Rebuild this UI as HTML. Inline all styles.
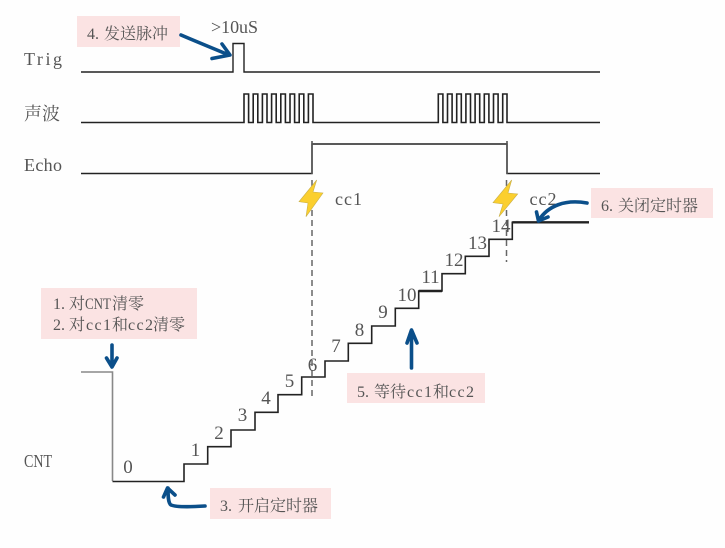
<!DOCTYPE html>
<html><head><meta charset="utf-8"><style>
html,body{margin:0;padding:0;background:#fff}
svg{display:block}
.m{font-family:"Liberation Serif","Noto Serif CJK SC",serif;font-size:18px;fill:#555}
.t{font-family:"Liberation Serif",serif;font-size:16px;fill:#555}
.s{font-family:"Liberation Serif",serif;font-size:19px;fill:#555;text-anchor:middle}
.c{font-family:"Noto Serif CJK SC","Liberation Serif",serif;font-size:16px;fill:#555}
.b{fill:#fbe3e3}
.l{fill:none;stroke:#222;stroke-width:1.4}
.a{fill:none;stroke:#0b4f8a;stroke-width:3.6;stroke-linecap:round;stroke-linejoin:round}
</style></head><body>
<svg width="725" height="548" viewBox="0 0 725 548" xmlns="http://www.w3.org/2000/svg">
<rect width="725" height="548" fill="#fefefe"/>
<rect class="b" x="77" y="16" width="103" height="31"/>
<rect class="b" x="41" y="288" width="156" height="51"/>
<rect class="b" x="210" y="488" width="121" height="31"/>
<rect class="b" x="347" y="373" width="138" height="30"/>
<rect class="b" x="591" y="188" width="122" height="30"/>

<path class="l" d="M81 72H233V43.500H244V72H600"/>
<path class="l" style="stroke-width:1.6" d="M81 122.500H244V94H248.600V122.500H253.200V94H257.800V122.500H262.400V94H267V122.500H271.600V94H276.200V122.500H280.800V94H285.400V122.500H290V94H294.600V122.500H299.200V94H303.800V122.500H308.400V94H313V122.500H438.300V94H442.900V122.500H447.500V94H452.100V122.500H456.700V94H461.300V122.500H465.900V94H470.500V122.500H475.100V94H479.700V122.500H484.300V94H488.900V122.500H493.500V94H498.100V122.500H502.700V94H507V122.500H600"/>
<path class="l" d="M81 173.500H312V144H507V173.500H600"/>
<path fill="none" stroke="#555" stroke-width="1.6" d="M312 141V174M507 141V174"/>
<path fill="none" stroke="#666" stroke-width="1.5" stroke-dasharray="6 4" d="M312 180V400M506.500 180V262"/>

<path fill="none" stroke="#888" stroke-width="1.6" d="M81 372H112.500V481"/>
<path class="l" style="stroke-width:1.6" d="M112.500 481.500H184V464H207.700V446.700H231V430H255V412.300H278V394.700H301.700V377H325V361H348.300V343.300H371.700V326H395.300V308.300H418.700V291H442V273.700H465.300V256.300H489V239.300H512.300V222.300H589"/>
<path fill="none" stroke="#222" stroke-width="2.4" d="M512.300 222.300H589M418.700 291H442"/>

<polygon points="316.700,180 299,201.700 308,203 306,216.700 323,193 313,192" fill="#fbcf2e" stroke="#c9b04a" stroke-width=".6"/>
<polygon points="511.700,180 493,202.700 503,204 499,216.700 517.700,194 508,193" fill="#fbcf2e" stroke="#c9b04a" stroke-width=".6"/>

<text class="m" x="24" y="65" textLength="38" lengthAdjust="spacing">Trig</text>
<text class="c" x="24" y="120" style="font-size:18px">声波</text>
<text class="m" x="24" y="171" textLength="38" lengthAdjust="spacing">Echo</text>
<text class="m" x="24" y="467" textLength="28" lengthAdjust="spacingAndGlyphs">CNT</text>
<text class="m" x="211" y="33" textLength="47" lengthAdjust="spacing">&gt;10uS</text>
<text class="m" x="335" y="205" textLength="27" lengthAdjust="spacing">cc1</text>
<text class="m" x="529.500" y="205" textLength="27" lengthAdjust="spacing">cc2</text>

<text class="s" x="128" y="473">0</text>
<text class="s" x="195.500" y="456">1</text>
<text class="s" x="219" y="439">2</text>
<text class="s" x="242.500" y="421">3</text>
<text class="s" x="266" y="404">4</text>
<text class="s" x="289.500" y="387">5</text>
<text class="s" x="312.500" y="371">6</text>
<text class="s" x="336" y="352">7</text>
<text class="s" x="359.500" y="336">8</text>
<text class="s" x="383" y="318">9</text>
<text class="s" x="407" y="301">10</text>
<text class="s" x="430.500" y="283">11</text>
<text class="s" x="454" y="266">12</text>
<text class="s" x="477.500" y="249">13</text>
<text class="s" x="501" y="232">14</text>

<text class="t" x="87" y="39">4.</text><text class="c" x="104" y="39">发送脉冲</text>
<text class="t" x="53" y="309">1.</text><text class="c" x="69" y="309">对</text><text class="t" x="85" y="309" textLength="26" lengthAdjust="spacingAndGlyphs">CNT</text><text class="c" x="112" y="309">清零</text>
<text class="t" x="53" y="330">2.</text><text class="c" x="69" y="330">对</text><text class="t" x="86" y="330" textLength="25" lengthAdjust="spacing">cc1</text><text class="c" x="112" y="330">和</text><text class="t" x="128" y="330" textLength="25" lengthAdjust="spacing">cc2</text><text class="c" x="153" y="330">清零</text>
<text class="t" x="220" y="511">3.</text><text class="c" x="238" y="511">开启定时器</text>
<text class="t" x="357" y="397">5.</text><text class="c" x="374" y="397">等待</text><text class="t" x="407" y="397" textLength="25" lengthAdjust="spacing">cc1</text><text class="c" x="433" y="397">和</text><text class="t" x="449" y="397" textLength="25" lengthAdjust="spacing">cc2</text>
<text class="t" x="601" y="211">6.</text><text class="c" x="618" y="211">关闭定时器</text>

<path class="a" d="M181 35C195 41 212 48 229 55M212 58.500L230 55L222 44"/>
<path class="a" d="M112 345V366M106.500 358L112 367L117 358"/>
<path class="a" d="M205 506C190 507 176 507 171 505C168 503 168 495 168 488M163.500 497L167.500 488L175 495"/>
<path class="a" d="M411.500 368V331M407 343L411.500 330L417 343"/>
<path class="a" d="M587 203C565 199 548 206 539 220M536.500 212L538.500 221L548 217"/>
</svg>
</body></html>
